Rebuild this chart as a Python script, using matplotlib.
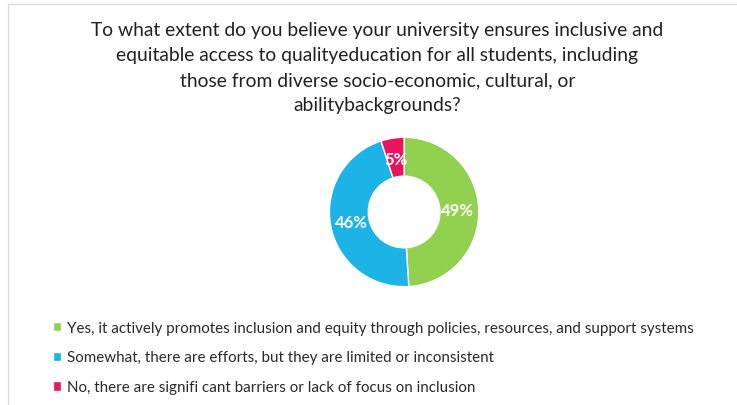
import matplotlib.pyplot as plt

# Survey responses
labels = [
    'Yes, it actively promotes inclusion and equity through policies, resources, and support systems',
    'Somewhat, there are efforts, but they are limited or inconsistent',
    'No, there are signifi cant barriers or lack of focus on inclusion',
]
shares = [49, 46, 5]
colors = ['#92D050', '#1CB3E6', '#E8145C']

title = ('To what extent do you believe your university ensures inclusive and\n'
         'equitable access to qualityeducation for all students, including\n'
         'those from diverse socio-economic, cultural, or\n'
         'abilitybackgrounds?')

plt.rcParams['font.family'] = ['Lato', 'DejaVu Sans']

fig = plt.figure(figsize=(7.37, 4.06), dpi=100)

# thin frame around the chart area
fig.add_artist(plt.Rectangle((0.011, -0.01), 0.99, 0.998, transform=fig.transFigure,
                             fill=False, edgecolor='#dddddd', linewidth=1))

fig.text(0.512, 0.945, title, ha='center', va='top', fontsize=13.9,
         linespacing=1.57, color='#222222')

ax = fig.add_axes([0.4216, 0.2454, 0.2534, 0.46])
wedges, _, autotexts = ax.pie(shares, colors=colors, startangle=90, counterclock=False,
                              radius=1.0, wedgeprops=dict(width=0.52, edgecolor='white', linewidth=1),
                              autopct='%d%%', pctdistance=0.72,
                              textprops=dict(color='white', fontsize=12, fontweight='bold'))
ax.set_aspect('equal')

fig.legend(wedges, labels, loc='upper left', bbox_to_anchor=(0.072, 0.208),
           frameon=False, fontsize=10.9, handlelength=0.55, handleheight=0.55,
           handletextpad=0.4, labelspacing=1.05, borderpad=0, borderaxespad=0,
           labelcolor='#2a2a2a')

fig.savefig('out.png', dpi=100, facecolor='white')
